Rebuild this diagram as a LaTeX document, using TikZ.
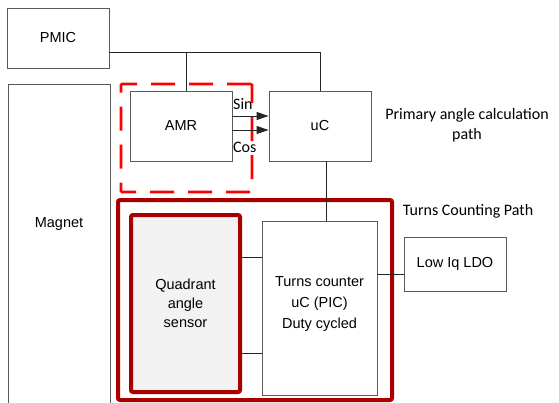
\documentclass[tikz,border=0pt]{standalone}
\usepackage{fontspec}
\setmainfont{Liberation Sans}
\newfontfamily\calibri{Carlito}
\usepackage{tikz}
\usetikzlibrary{arrows.meta,positioning,calc}
\definecolor{darkred}{HTML}{A80000}
\definecolor{boxgray}{HTML}{5A5A5A}
\tikzset{
  blk/.style={draw=boxgray, line width=0.9pt, align=center, font=\fontsize{14.5}{19}\selectfont, inner sep=2pt},
  wire/.style={draw=black!85, line width=0.9pt},
  sig/.style={wire, -{Triangle[length=12pt, width=8pt]}},
  redpath/.style={draw=darkred, line width=4pt, rounded corners=2pt},
  dashpath/.style={draw=red, line width=2.6pt, dash pattern=on 24pt off 14pt, rounded corners=1pt},
  note/.style={font=\calibri\fontsize{16}{20}\selectfont, align=center}}
\begin{document}
\begin{tikzpicture}[x=1pt, y=-1pt]
  \useasboundingbox (0,0) rectangle (559,402);
  % upper part
  \node[blk, minimum width=102pt, minimum height=60pt] (pmic) at (58,38) {PMIC};
  \node[blk, minimum width=102pt, minimum height=340pt, anchor=north west] (magnet) at (8,84) {};
  \node[font=\fontsize{14.5}{19}\selectfont] (magtxt) at (59,224) {Magnet};
  \node[dashpath, minimum width=131pt, minimum height=108pt] (primbox) at (186.5,138) {};
  \node[blk, minimum width=102pt, minimum height=70pt] (amr) at (181,126) {AMR};
  \node[blk, minimum width=102pt, minimum height=70pt] (uc) at (320,126) {uC};
  \node[note] (primtxt) at (467,125) {Primary angle calculation\\path};
  % turns counting part
  \node[redpath, minimum width=274pt, minimum height=200pt] (tcpath) at (255,300) {};
  \node[note] (tctitle) at (468,211) {Turns Counting Path};
  \node[blk, redpath, fill=black!5, minimum width=109pt, minimum height=177pt] (quad) at (185.5,303.5)
    {Quadrant\\angle\\sensor};
  \node[blk, minimum width=115pt, minimum height=174pt] (tcount) at (319.5,308) {};
  \node[font=\fontsize{14.5}{21}\selectfont, align=center] (tctxt) at (319.5,304)
    {Turns counter\\uC (PIC)\\Duty cycled};
  \node[blk, minimum width=102pt, minimum height=54pt] (ldo) at (455,264) {Low Iq LDO};
  % connections
  \coordinate (pwr) at ([yshift=-14pt]pmic.east);
  \draw[wire] (pwr) -| (uc.north);
  \draw[wire] ([xshift=5pt]amr.north) -- ([xshift=5pt]amr.north |- pwr);
  \draw[sig] ([yshift=10pt]amr.east) -- ([yshift=10pt]amr.east -| uc.west);
  \draw[sig] ([yshift=-4pt]amr.east) -- ([yshift=-4pt]amr.east -| uc.west);
  \node[note, anchor=west, inner sep=0pt] (sinlbl) at (233,104) {Sin};
  \node[note, anchor=west, inner sep=0pt] (coslbl) at (233,147) {Cos};
  \draw[wire] ([xshift=6pt]uc.south) -- ([xshift=6pt]uc.south |- tcount.north);
  \draw[wire] ([yshift=46pt]quad.east) -- ([yshift=46pt]quad.east -| tcount.west);
  \draw[wire] ([yshift=-50pt]quad.east) -- ([yshift=-50pt]quad.east -| tcount.west);
  \draw[wire] ([yshift=-10pt]ldo.west) -- ([yshift=-10pt]ldo.west -| tcount.east);
\end{tikzpicture}
\end{document}
